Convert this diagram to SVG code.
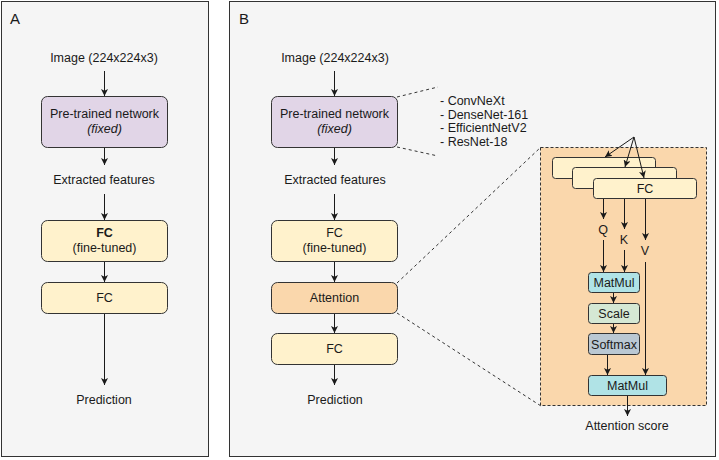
<svg xmlns="http://www.w3.org/2000/svg" width="719" height="460" viewBox="0 0 719 460">
<defs>
<marker id="ah" viewBox="0 0 10 10" refX="10" refY="5" markerWidth="7" markerHeight="7" markerUnits="userSpaceOnUse" orient="auto">
<path d="M0,0 L10,5 L0,10 L2.5,5 z" fill="#1a1a1a"/>
</marker>
<style>
text{font-family:"Liberation Sans",Arial,sans-serif;font-size:12.5px;fill:#1a1a1a;text-anchor:middle}
.lbl{font-size:15px;text-anchor:start}
.lst{text-anchor:start}
.panel{fill:#f5f5f5;stroke:#333;stroke-width:1}
.box{stroke:#333;stroke-width:1}
.pur{fill:#e1d5e7}
.yel{fill:#fff2cc}
.ora{fill:#fad7ac}
.cya{fill:#b0e3e6}
.grn{fill:#d5e8d4}
.gry{fill:#bac8d3}
.ar{stroke:#1a1a1a;stroke-width:1;fill:none;marker-end:url(#ah)}
.dash{stroke:#333;stroke-width:1;fill:none;stroke-dasharray:3 3}
</style>
</defs>
<g id="panelA">
<rect class="panel" x="1.5" y="1.5" width="207" height="455"/>
<text class="lbl" x="10" y="24">A</text>
</g>
<g id="panelB">
<rect class="panel" x="229.5" y="1.5" width="486" height="455"/>
<text class="lbl" x="239" y="24">B</text>
</g>
<g id="attnPanel">
<rect x="540.5" y="147.5" width="166" height="258" fill="#fad7ac" stroke="#333" stroke-width="1" stroke-dasharray="3 2"/>
</g>
<g id="A_img"><text x="104" y="62">Image (224x224x3)</text></g>
<g id="A_pre"><rect class="box pur" x="41.5" y="96.5" width="126" height="51" rx="6"/><text x="104.5" y="118">Pre-trained network</text><text x="104.5" y="133" font-style="italic">(fixed)</text></g>
<g id="A_ext"><text x="104" y="184">Extracted features</text></g>
<g id="A_fc1"><rect class="box yel" x="41.5" y="220.5" width="126" height="41" rx="6"/><text x="104.5" y="237" font-weight="bold">FC</text><text x="104.5" y="252">(fine-tuned)</text></g>
<g id="A_fc2"><rect class="box yel" x="41.5" y="282.5" width="126" height="31" rx="6"/><text x="104.5" y="302">FC</text></g>
<g id="A_pred"><text x="104" y="404">Prediction</text></g>

<g id="B_img"><text x="335" y="62">Image (224x224x3)</text></g>
<g id="B_pre"><rect class="box pur" x="271.5" y="96.5" width="126" height="51" rx="6"/><text x="334.5" y="118">Pre-trained network</text><text x="334.5" y="133" font-style="italic">(fixed)</text></g>
<g id="B_list"><text class="lst" x="440" y="105">- ConvNeXt</text><text class="lst" x="440" y="118.5">- DenseNet-161</text><text class="lst" x="440" y="132">- EfficientNetV2</text><text class="lst" x="440" y="145.5">- ResNet-18</text></g>
<g id="B_ext"><text x="335" y="184">Extracted features</text></g>
<g id="B_fc1"><rect class="box yel" x="271.5" y="220.5" width="126" height="41" rx="6"/><text x="334.5" y="237">FC</text><text x="334.5" y="252">(fine-tuned)</text></g>
<g id="B_att"><rect class="box ora" x="271.5" y="282.5" width="126" height="31" rx="6"/><text x="334.5" y="302">Attention</text></g>
<g id="B_fc2"><rect class="box yel" x="271.5" y="333.5" width="126" height="31" rx="6"/><text x="334.5" y="353">FC</text></g>
<g id="B_pred"><text x="335" y="404">Prediction</text></g>

<g id="fc_a"><rect class="box yel" x="552.5" y="157.5" width="103" height="21" rx="3"/></g>
<g id="fc_b"><rect class="box yel" x="572.5" y="167.5" width="104" height="21" rx="3"/></g>
<g id="fc_c"><rect class="box yel" x="593.5" y="178.5" width="103" height="20" rx="3"/><text x="645" y="193">FC</text></g>
<g id="Q"><text x="603" y="234">Q</text></g>
<g id="K"><text x="624" y="244">K</text></g>
<g id="V"><text x="645" y="255">V</text></g>
<g id="mm1"><rect class="box cya" x="588.5" y="272.5" width="51" height="20" rx="3"/><text x="614" y="287">MatMul</text></g>
<g id="scale"><rect class="box grn" x="588.5" y="303.5" width="51" height="20" rx="3"/><text x="614" y="318">Scale</text></g>
<g id="softmax"><rect class="box gry" x="588.5" y="333.5" width="51" height="21" rx="3"/><text x="614" y="348.5">Softmax</text></g>
<g id="mm2"><rect class="box cya" x="588.5" y="375.5" width="78" height="20" rx="3"/><text x="627.5" y="390">MatMul</text></g>
<g id="attscore"><text x="627" y="430">Attention score</text></g>

<g id="connectors">
<path class="ar" d="M104.5,71 V96"/>
<path class="ar" d="M104.5,148 V165"/>
<path class="ar" d="M104.5,194 V220"/>
<path class="ar" d="M104.5,262 V282"/>
<path class="ar" d="M104.5,314 V385"/>

<path class="ar" d="M334.5,71 V96"/>
<path class="ar" d="M334.5,148 V165"/>
<path class="ar" d="M334.5,194 V220"/>
<path class="ar" d="M334.5,262 V282"/>
<path class="ar" d="M334.5,314 V333"/>
<path class="ar" d="M334.5,365 V385"/>

<path class="dash" d="M397,97 L438,87"/>
<path class="dash" d="M397,147 L438,156"/>
<path class="dash" d="M397,283 L541,147"/>
<path class="dash" d="M397,313 L541,406"/>

<path class="ar" d="M634,137 L605,157"/>
<path class="ar" d="M634,137 L625,167"/>
<path class="ar" d="M634,137 L644,178"/>

<path class="ar" d="M603.5,199 V219"/>
<path class="ar" d="M603.5,240 V272"/>
<path class="ar" d="M624.5,199 V229"/>
<path class="ar" d="M624.5,250 V272"/>
<path class="ar" d="M645.5,199 V240"/>
<path class="ar" d="M645.5,262 V375"/>
<path class="ar" d="M613.5,293 V303"/>
<path class="ar" d="M613.5,324 V333"/>
<path class="ar" d="M607.5,355 V375"/>
<path class="ar" d="M627.5,396 V416"/>
</g>
</svg>
